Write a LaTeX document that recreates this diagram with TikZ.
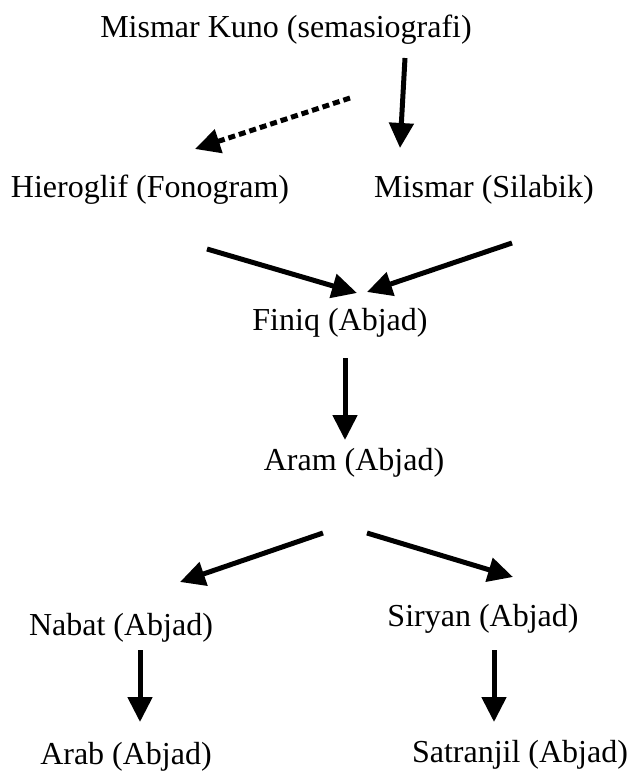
\documentclass[tikz,border=0pt]{standalone}
\usepackage{fontspec}
\setmainfont{Liberation Serif}
\usepackage{tikz}
\usetikzlibrary{arrows.meta}

\begin{document}
\begin{tikzpicture}[
            x = 1pt, y = -1pt,
            > = {Triangle[length=25pt,width=24pt]}, % arrow head style
            line width = 5pt,
            font = \fontsize{32}{38}\selectfont,
        ]

        \tikzstyle{flow}=[->, black]
        \tikzstyle{weak}=[->, black, dash pattern = on 7pt off 4pt]

  \useasboundingbox (0,0) rectangle (635,774);

  \node (n1) at (286,30)  {Mismar Kuno (semasiografi)};
  \node (n2) at (150,190) {Hieroglif (Fonogram)};
  \node (n3) at (484,190) {Mismar (Silabik)};
  \node (n4) at (340,323) {Finiq (Abjad)};
  \node (n5) at (354,463) {Aram (Abjad)};
  \node (n6) at (121,628) {Nabat (Abjad)};
  \node (n7) at (483,619) {Siryan (Abjad)};
  \node (n8) at (126,757) {Arab (Abjad)};
  \node (n9) at (520,755) {Satranjil (Abjad)};

  % free arrow ends
  \coordinate (a1) at (405,58);  \coordinate (b1) at (400,148);
  \coordinate (a2) at (350,98);  \coordinate (b2) at (195,149);
  \coordinate (a3) at (207,249); \coordinate (b3) at (357,293);
  \coordinate (a4) at (512,243); \coordinate (b4) at (367,292);
  \coordinate (a5) at (345,358); \coordinate (b5) at (345,440);
  \coordinate (a6) at (323,533); \coordinate (b6) at (180,582);
  \coordinate (a7) at (367,533); \coordinate (b7) at (513,577);
  \coordinate (a8) at (140,650); \coordinate (b8) at (140,722);
  \coordinate (a9) at (494,650); \coordinate (b9) at (494,722);

  \draw[flow] (a1) -- (b1);
  \draw[weak] (a2) -- (b2);
  \draw[flow] (a3) -- (b3);
  \draw[flow] (a4) -- (b4);
  \draw[flow] (a5) -- (b5);
  \draw[flow] (a6) -- (b6);
  \draw[flow] (a7) -- (b7);
  \draw[flow] (a8) -- (b8);
  \draw[flow] (a9) -- (b9);

\end{tikzpicture}
\end{document}
